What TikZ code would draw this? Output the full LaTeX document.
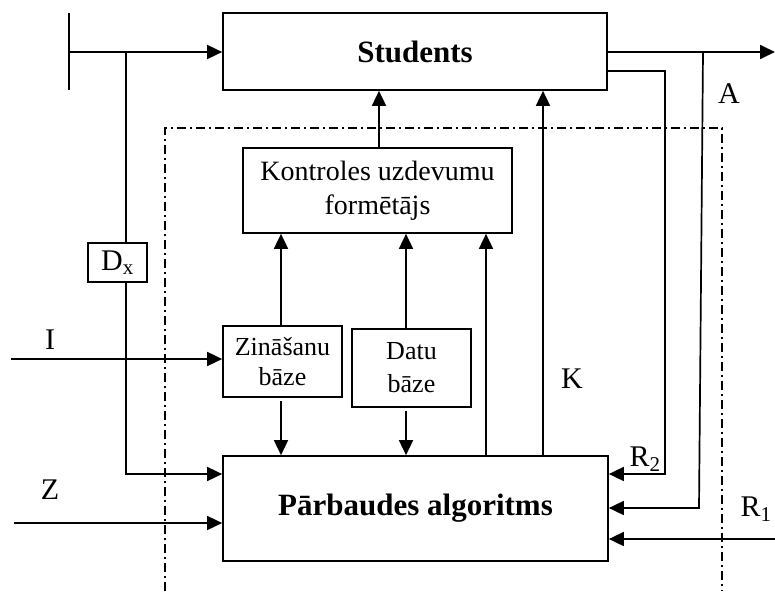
\documentclass[tikz,border=0pt]{standalone}
\usepackage{fontspec}
\setmainfont{Liberation Serif}
\usetikzlibrary{arrows.meta}

\tikzset{
  line/.style={line width=1.7pt},
  arr/.style={line, -{Triangle[length=15pt,width=14pt]}},
  blk/.style={draw, line width=1.7pt, fill=white, inner sep=0pt, align=center},
  frame/.style={line width=1.5pt, dash pattern=on 9pt off 4pt on 2pt off 4pt},
  lbl/.style={inner sep=0pt, font=\fontsize{30}{34}\selectfont}
}

\begin{document}
\begin{tikzpicture}[x=1pt,y=-1pt]
\useasboundingbox (0,0) rectangle (775,591);

% dash-dot system boundary (open at the bottom)
\draw[frame] (165,591) -- (165,128) -- (722,128) -- (722,591);

% main blocks
\node[blk, minimum width=384pt, minimum height=77pt, font=\fontsize{31}{35}\selectfont\bfseries]
  (students) at (415,51.5) {Students};
\node[blk, minimum width=385pt, minimum height=105pt, font=\fontsize{31}{35}\selectfont\bfseries]
  (pb) at (415.5,508.5) {Pārbaudes algoritms};
\node[blk, minimum width=269pt, minimum height=85pt, font=\fontsize{28}{34}\selectfont]
  (kuf) at (377.5,190.5) {Kontroles uzdevumu\\formētājs};
\node[blk, minimum width=119pt, minimum height=71pt, font=\fontsize{26}{30}\selectfont]
  (zb) at (282.5,361.5) {Zināšanu\\bāze};
\node[blk, minimum width=119pt, minimum height=78pt, font=\fontsize{26}{33}\selectfont]
  (db) at (411.5,368) {Datu\\bāze};

% column and input/output points
\coordinate (bar)  at (69,52);
\coordinate (c1)   at (126,52);
\coordinate (c2)   at (281,0);
\coordinate (c0)   at (379,0);
\coordinate (cd)   at (406,0);
\coordinate (c3)   at (486,0);
\coordinate (c4)   at (543,0);
\coordinate (y2)   at (0,474);
\coordinate (y3)   at (0,71);
\coordinate (r2c)  at (665,71);
\coordinate (a1)   at (703,52);
\coordinate (a2)   at (699,508);
\coordinate (out)  at (775,52);
\coordinate (iin)  at (11,359);
\coordinate (zin)  at (14,523);
\coordinate (r1in) at (775,539);

% input bar and feed into the student
\draw[line] (69,13) -- (69,90);
\draw[arr] (bar) -- (bar -| students.west);
\draw[arr] (c1) -- (c1 |- y2) -- (pb.west |- y2);
\node[blk, minimum width=59pt, minimum height=39pt, font=\fontsize{30}{34}\selectfont]
  (dx) at (117.5,262.5) {D\textsubscript{x}};

% external inputs
\draw[arr] (iin) -- (iin -| zb.west);
\draw[arr] (zin) -- (zin -| pb.west);

% internal links
\draw[arr] (c0 |- kuf.north) -- (c0 |- students.south);
\draw[arr] (c2 |- zb.north) -- (c2 |- kuf.south);
\draw[arr] (cd |- db.north) -- (cd |- kuf.south);
\draw[arr] ([yshift=-3pt]cd |- db.south) -- (cd |- pb.north);
\draw[arr] ([yshift=-3pt]c2 |- zb.south) -- (c2 |- pb.north);
\draw[arr] (c3 |- pb.north) -- (c3 |- kuf.south);
\draw[arr] (c4 |- pb.north) -- (c4 |- students.south);

% outputs and feedback loops
\draw[arr] (students.east |- out) -- (out);
\draw[arr] (students.east |- y3) -- (r2c) -- (r2c |- y2) -- (pb.east |- y2);
\draw[arr] (a1) -- (a2) -- (pb.east |- a2);
\draw[arr] (r1in) -- (r1in -| pb.east);

% signal labels
\node[lbl] (lI) at (50,340) {I};
\node[lbl] (lZ) at (50,490) {Z};
\node[lbl] (lA) at (729,94) {A};
\node[lbl] (lK) at (572,379) {K};
\node[lbl, anchor=base] (lR2) at (645,466) {R\textsubscript{2}};
\node[lbl, anchor=base] (lR1) at (756,516) {R\textsubscript{1}};
\end{tikzpicture}
\end{document}
